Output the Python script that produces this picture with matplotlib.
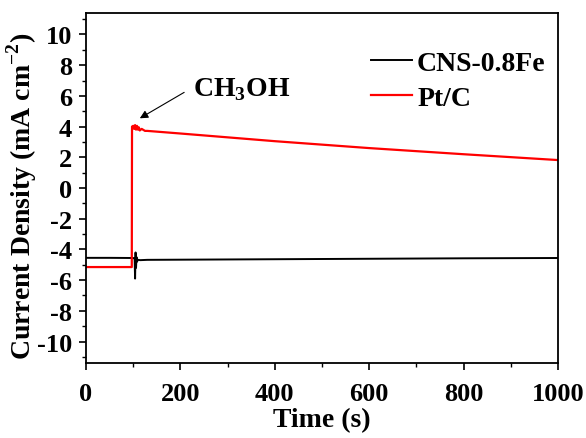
import matplotlib
matplotlib.use("Agg")
import matplotlib.pyplot as plt
from matplotlib.ticker import MultipleLocator

plt.rcParams['font.family'] = ['Liberation Serif', 'DejaVu Serif']
plt.rcParams['font.weight'] = 'bold'
plt.rcParams['axes.unicode_minus'] = False
plt.rcParams['mathtext.fontset'] = 'custom'
plt.rcParams['mathtext.rm'] = 'Liberation Serif:bold'
plt.rcParams['mathtext.bf'] = 'Liberation Serif:bold'

# CNS-0.8Fe (black)
t_cns = [0, 50, 100, 103, 104, 105, 106, 107, 108, 110, 115, 130, 200, 400, 600, 800, 1000]
j_cns = [-4.55, -4.55, -4.56, -4.6, -5.9, -4.2, -5.2, -4.5, -4.8, -4.68, -4.7, -4.68, -4.67, -4.64, -4.61, -4.58, -4.56]

# Pt/C (red)
t_pt = [0, 50, 97, 97.5, 100, 102, 104, 106, 108, 110, 112, 114, 118, 125, 130, 200, 400, 600, 800, 1000]
j_pt = [-5.15, -5.15, -5.15, 4.0, 4.05, 3.85, 4.1, 3.8, 4.05, 3.8, 3.95, 3.75, 3.85, 3.72, 3.72, 3.55, 3.05, 2.6, 2.2, 1.82]

fig = plt.figure(figsize=(5.86, 4.39), dpi=100)
ax = fig.add_axes([86/586, 1-364/439, (558-86)/586, (364-14)/439])

ax.plot(t_cns, j_cns, color='black', lw=1.4, label='CNS-0.8Fe')
ax.plot(t_pt, j_pt, color='red', lw=1.6, label='Pt/C')

ax.set_xlim(0, 1000)
ax.set_ylim(-11.4, 11.4)
ax.xaxis.set_major_locator(MultipleLocator(200))
ax.xaxis.set_minor_locator(MultipleLocator(100))
ax.yaxis.set_major_locator(MultipleLocator(2))
ax.yaxis.set_minor_locator(MultipleLocator(1))
ax.tick_params(which='both', direction='out', top=False, right=False, labelsize=19)
ax.tick_params(which='major', length=5, width=1.2)
ax.tick_params(axis='x', which='major', pad=8.5)
ax.tick_params(axis='y', which='major', pad=5)
ax.tick_params(which='minor', length=3, width=1.0)
for s in ax.spines.values():
    s.set_linewidth(1.3)

ax.set_xlabel('Time (s)', fontsize=20, fontweight='bold', labelpad=2)
ax.set_ylabel('Current Density (mA cm$^{-2}$)', fontsize=20, fontweight='bold')
ax.yaxis.set_label_coords(-0.1, 0.48)

ax.text(227, 6.5, 'CH$_3$OH', fontsize=20, fontweight='bold', va='center', ha='left')
ax.annotate('', xy=(114, 4.54), xytext=(208, 6.23),
            arrowprops=dict(arrowstyle='-|>', color='black', lw=0.8,
                            mutation_scale=12, shrinkA=0, shrinkB=0))

leg = ax.legend(loc='upper right', bbox_to_anchor=(1.027, 0.964), frameon=False,
                fontsize=20, handlelength=1.45, handletextpad=0.2, labelspacing=0.33)

fig.savefig('out.png', dpi=100)
